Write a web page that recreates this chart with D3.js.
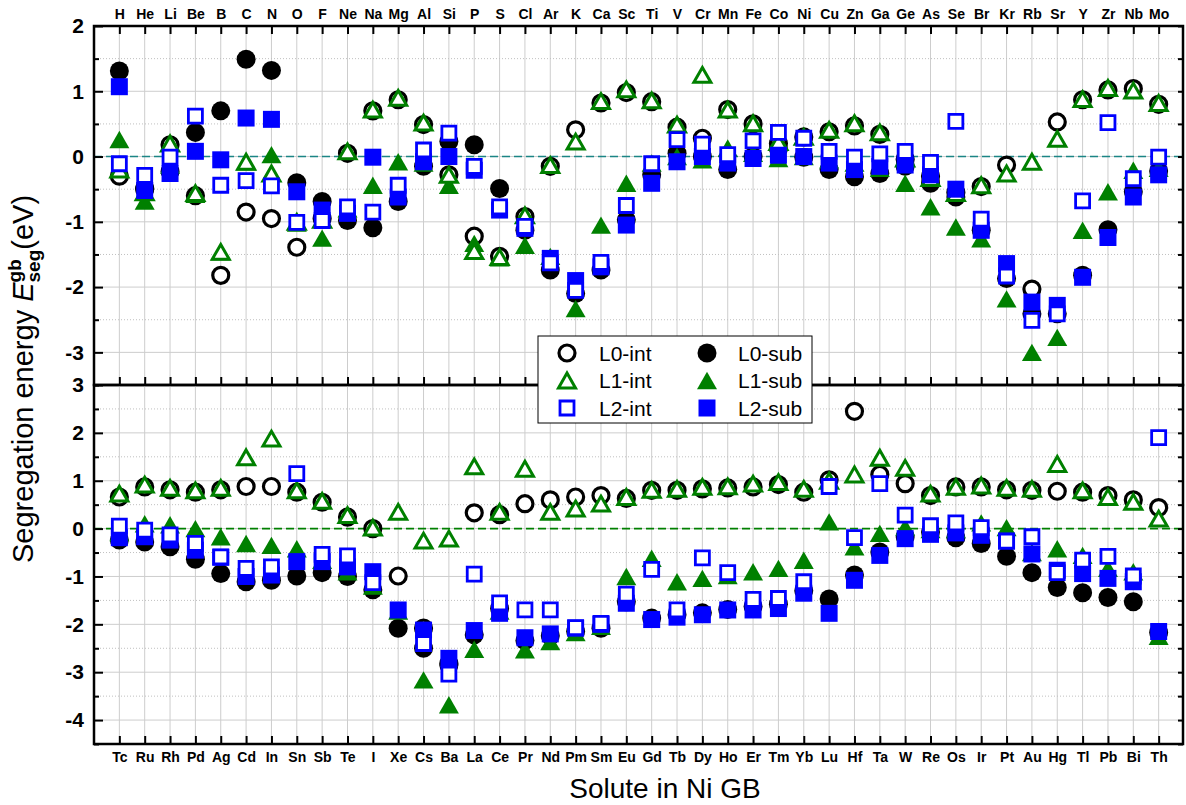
<!DOCTYPE html>
<html>
<head>
<meta charset="utf-8">
<script src="https://cdn.jsdelivr.net/npm/d3@7"></script>
<style>
  body { margin: 0; background: #fff; }
  svg { font-family: "Liberation Sans", Arial, sans-serif; }
</style>
</head>
<body>
<div id="chart"></div>
<script>
// solutes, read left to right
const topElems = ["H","He","Li","Be","B","C","N","O","F","Ne","Na","Mg","Al","Si","P","S","Cl","Ar","K","Ca","Sc","Ti","V","Cr","Mn","Fe","Co","Ni","Cu","Zn","Ga","Ge","As","Se","Br","Kr","Rb","Sr","Y","Zr","Nb","Mo"];
const botElems = ["Tc","Ru","Rh","Pd","Ag","Cd","In","Sn","Sb","Te","I","Xe","Cs","Ba","La","Ce","Pr","Nd","Pm","Sm","Eu","Gd","Tb","Dy","Ho","Er","Tm","Yb","Lu","Hf","Ta","W","Re","Os","Ir","Pt","Au","Hg","Tl","Pb","Bi","Th"];

// top panel values (eV)
const topL0int = [-0.3,-0.5,0.18,-0.6,-1.82,-0.85,-0.95,-1.39,-0.95,0.05,0.7,0.87,0.49,-0.28,-1.22,-1.53,-0.92,-0.15,0.41,0.82,0.98,0.84,0.45,0.28,0.72,0.5,0.2,0.3,0.38,0.47,0.34,-0.04,-0.3,-0.55,-0.46,-0.13,-2.03,0.53,0.87,1.02,1.04,0.8];
const topL0sub = [1.31,-0.48,-0.23,0.37,0.7,1.49,1.32,-0.4,-0.69,-0.98,-1.09,-0.69,-0.15,0.23,0.18,-0.49,-1.13,-1.74,-2.1,-1.74,-0.97,-0.28,0.05,0.0,-0.2,0.0,0.12,-0.01,-0.2,-0.31,-0.26,-0.15,-0.41,-0.62,-1.13,-1.87,-2.41,-2.41,-1.82,-1.12,-0.54,-0.22];
const topL1int = [-0.2,-0.55,0.2,-0.56,-1.46,-0.08,-0.26,-1.0,-0.97,0.08,0.72,0.9,0.52,-0.28,-1.45,-1.54,-0.9,-0.13,0.23,0.85,1.03,0.86,0.49,1.25,0.72,0.51,0.22,0.3,0.41,0.51,0.37,-0.03,-0.33,-0.56,-0.44,-0.26,-0.08,0.27,0.88,1.05,1.01,0.82];
const topL1sub = [0.26,-0.68,-0.13,-0.58,-1.46,-0.08,0.03,-1.02,-1.25,-0.8,-0.44,-0.08,-0.1,-0.44,-1.33,-1.55,-1.36,-1.53,-2.33,-1.05,-0.41,-0.1,0.0,-0.05,0.13,0.05,-0.03,0.0,-0.05,-0.1,-0.18,-0.41,-0.77,-1.08,-1.26,-2.18,-3.0,-2.77,-1.13,-0.54,-0.21,-0.18];
const topL2int = [-0.11,-0.29,-0.01,0.62,-0.44,-0.37,-0.45,-1.01,-0.98,-0.77,-0.85,-0.44,0.1,0.36,-0.15,-0.77,-1.07,-1.63,-2.05,-1.62,-0.75,-0.11,0.26,0.19,0.03,0.24,0.37,0.28,0.08,-0.01,0.04,0.08,-0.09,0.54,-0.96,-1.83,-2.51,-2.41,-0.68,0.52,-0.34,-0.01];
const topL2sub = [1.07,-0.52,-0.26,0.08,-0.05,0.59,0.57,-0.54,-0.82,-0.87,-0.01,-0.62,-0.08,0.0,-0.21,-0.82,-1.1,-1.56,-1.9,-1.69,-1.05,-0.41,-0.08,0.0,-0.1,-0.03,0.02,0.0,-0.1,-0.2,-0.15,-0.13,-0.28,-0.5,-1.13,-1.64,-2.23,-2.28,-1.85,-1.24,-0.62,-0.28];

// bottom panel values (eV)
const botL0int = [0.66,0.87,0.81,0.76,0.81,0.88,0.88,0.76,0.55,0.24,0.0,-0.99,-2.08,-2.82,0.33,0.29,0.52,0.6,0.66,0.69,0.63,0.8,0.8,0.83,0.85,0.87,0.92,0.76,1.02,2.45,1.13,0.94,0.69,0.87,0.87,0.81,0.8,0.78,0.76,0.69,0.6,0.44];
const botL0sub = [-0.24,-0.28,-0.38,-0.64,-0.94,-1.11,-1.08,-0.99,-0.92,-1.0,-1.28,-2.08,-2.5,-2.85,-2.22,-1.67,-2.34,-2.24,-2.15,-2.08,-1.53,-1.87,-1.8,-1.76,-1.69,-1.63,-1.58,-1.3,-1.47,-0.97,-0.49,-0.17,-0.07,-0.19,-0.31,-0.58,-0.92,-1.23,-1.34,-1.44,-1.53,-2.17];
const botL1int = [0.73,0.92,0.85,0.8,0.85,1.49,1.88,0.8,0.58,0.28,0.02,0.35,-0.25,-0.21,1.3,0.35,1.25,0.35,0.42,0.52,0.66,0.81,0.83,0.87,0.88,0.94,0.97,0.83,1.0,1.13,1.48,1.27,0.73,0.87,0.9,0.85,0.83,1.35,0.8,0.66,0.56,0.21];
const botL1sub = [-0.08,0.1,0.08,0.0,-0.17,-0.31,-0.35,-0.42,-0.66,-0.9,-1.2,-1.72,-3.16,-3.68,-2.52,-1.72,-2.53,-2.36,-2.17,-2.04,-1.0,-0.62,-1.11,-1.04,-0.98,-0.9,-0.83,-0.66,0.14,-0.38,-0.1,0.03,-0.02,-0.02,0.12,0.02,-0.5,-0.42,-0.56,-0.83,-0.9,-2.25];
const botL2int = [0.05,-0.03,-0.13,-0.31,-0.59,-0.83,-0.8,1.15,-0.54,-0.57,-1.13,null,-2.4,-3.04,-0.95,-1.55,-1.7,-1.7,-2.07,-1.98,-1.37,-0.85,-1.7,-0.61,-0.92,-1.48,-1.46,-1.11,0.88,-0.19,0.94,0.28,0.06,0.12,0.02,-0.26,-0.17,-0.92,-0.66,-0.58,-0.99,1.9];
const botL2sub = [-0.19,-0.17,-0.24,-0.45,-0.6,-1.0,-0.97,-0.69,-0.69,-0.8,-0.9,-1.7,-2.12,-2.71,-2.13,-1.77,-2.28,-2.2,-2.08,-2.0,-1.56,-1.9,-1.85,-1.8,-1.7,-1.7,-1.67,-1.35,-1.77,-1.08,-0.56,-0.21,-0.12,-0.09,-0.14,-0.26,-0.53,-0.87,-0.94,-1.04,-1.11,-2.15];

const topTicks = [-3, -2, -1, 0, 1, 2];
const botTicks = [-4, -3, -2, -1, 0, 1, 2, 3];

const w = 1186, h = 805;
const left = 94, right = 1183;
const black = "#000000", green = "#008000", blue = "#0000ff";

// triangle centred on its box, not its centroid
const triangle = {
  draw(ctx, size) {
    const s = Math.sqrt(size), t = s * 0.87;
    ctx.moveTo(0, -t / 2);
    ctx.lineTo(s / 2, t / 2);
    ctx.lineTo(-s / 2, t / 2);
    ctx.closePath();
  }
};

const styles = {
  "L0-int": { color: black, type: d3.symbolCircle, size: Math.PI * 8 * 8, open: true, sw: 3.2 },
  "L0-sub": { color: black, type: d3.symbolCircle, size: Math.PI * 9.5 * 9.5, open: false },
  "L1-int": { color: green, type: triangle, size: 17 * 17, open: true, sw: 3 },
  "L1-sub": { color: green, type: triangle, size: 20 * 20, open: false },
  "L2-int": { color: blue, type: d3.symbolSquare, size: 14 * 14, open: true, sw: 2.8 },
  "L2-sub": { color: blue, type: d3.symbolSquare, size: 17 * 17, open: false }
};
// drawing order as in the figure
const drawOrder = ["L0-int", "L0-sub", "L1-sub", "L1-int", "L2-sub", "L2-int"];

const panels = [
  { elems: topElems, y0: 26, y1: 385, domain: [-3.5, 2], ticks: topTicks, zero: "#1b8585", labelsOnTop: true,
    data: { "L0-int": topL0int, "L0-sub": topL0sub, "L1-int": topL1int, "L1-sub": topL1sub, "L2-int": topL2int, "L2-sub": topL2sub } },
  { elems: botElems, y0: 385, y1: 744, domain: [-4.5, 3], ticks: botTicks, zero: green, labelsOnTop: false,
    data: { "L0-int": botL0int, "L0-sub": botL0sub, "L1-int": botL1int, "L1-sub": botL1sub, "L2-int": botL2int, "L2-sub": botL2sub } }
];

const svg = d3.select("#chart").append("svg")
  .attr("width", w).attr("height", h)
  .style("background-color", "#fff");

function marker(sel, name) {
  const st = styles[name];
  sel.attr("d", d3.symbol().type(st.type).size(st.size)())
     .attr("fill", st.open ? "#fff" : st.color)
     .attr("stroke", st.open ? st.color : "none")
     .attr("stroke-width", st.open ? st.sw : 0);
}

panels.forEach((p) => {
  const x = d3.scalePoint().domain(p.elems).range([left, right + 1]).padding(1);
  const y = d3.scaleLinear().domain(p.domain).range([p.y1, p.y0]);
  const halves = d3.range(p.domain[0], p.domain[1] + 0.01, 0.5).filter((v) => !Number.isInteger(v));
  const g = svg.append("g");

  // grid
  g.selectAll(".vgrid").data(p.elems).enter().append("line")
    .attr("x1", (d) => x(d)).attr("x2", (d) => x(d))
    .attr("y1", p.y0).attr("y2", p.y1)
    .attr("stroke", "#cdcdcd").attr("stroke-width", 1);
  g.selectAll(".hgrid").data(p.ticks).enter().append("line")
    .attr("x1", left).attr("x2", right)
    .attr("y1", (d) => y(d)).attr("y2", (d) => y(d))
    .attr("stroke", "#cdcdcd").attr("stroke-width", 1);
  g.selectAll(".mgrid").data(halves).enter().append("line")
    .attr("x1", left).attr("x2", right)
    .attr("y1", (d) => y(d)).attr("y2", (d) => y(d))
    .attr("stroke", "#c0c0c0").attr("stroke-width", 1)
    .attr("stroke-dasharray", "1,2");

  // zero line
  g.append("line")
    .attr("x1", left).attr("x2", right)
    .attr("y1", y(0)).attr("y2", y(0))
    .attr("stroke", p.zero).attr("stroke-width", 1.6)
    .attr("stroke-dasharray", "8,4");

  // points
  drawOrder.forEach((name) => {
    const vals = p.data[name];
    g.append("g").selectAll("path")
      .data(vals.map((v, i) => ({ el: p.elems[i], v })).filter((d) => d.v !== null))
      .enter().append("path")
      .attr("transform", (d) => `translate(${x(d.el)},${y(d.v)})`)
      .call(marker, name);
  });

  // axes
  const noDomain = (a) => a.select(".domain").remove();
  const yAx = g.append("g").attr("transform", `translate(${left},0)`)
    .call(d3.axisLeft(y).tickValues(p.ticks).tickSizeInner(-9).tickSizeOuter(0).tickPadding(10).tickFormat((d) => String(d)))
    .call(noDomain);
  yAx.selectAll("text").attr("font-size", 21).attr("font-weight", "bold")
     .attr("font-family", "Liberation Sans, Arial, sans-serif").attr("fill", "#000");
  g.append("g").attr("transform", `translate(${left},0)`)
    .call(d3.axisLeft(y).tickValues(halves).tickSize(-5).tickFormat(""))
    .call(noDomain);
  g.append("g").attr("transform", `translate(${right},0)`)
    .call(d3.axisRight(y).tickValues(p.ticks.concat(halves)).tickSize(-5).tickFormat(""))
    .call(noDomain);

  let xAx;
  if (p.labelsOnTop) {
    xAx = g.append("g").attr("transform", `translate(0,${p.y0})`)
      .call(d3.axisTop(x).tickSizeInner(-8).tickSizeOuter(0).tickPadding(7))
      .call(noDomain);
    g.append("g").attr("transform", `translate(0,${p.y1})`)
      .call(d3.axisBottom(x).tickSize(-8).tickFormat(""))
      .call(noDomain);
  } else {
    xAx = g.append("g").attr("transform", `translate(0,${p.y1})`)
      .call(d3.axisBottom(x).tickSizeInner(-8).tickSizeOuter(0).tickPadding(8))
      .call(noDomain);
  }
  xAx.selectAll("text").attr("font-size", 14).attr("font-weight", "bold")
     .attr("font-family", "Liberation Sans, Arial, sans-serif").attr("fill", "#000");
  g.selectAll(".tick line").attr("stroke", "#000").attr("stroke-width", 2);

  // frame
  g.append("rect")
    .attr("x", left).attr("y", p.y0)
    .attr("width", right - left).attr("height", p.y1 - p.y0)
    .attr("fill", "none").attr("stroke", "#000").attr("stroke-width", 2.5);
});

// y title
const yTitle = svg.append("text")
  .attr("transform", "translate(33,563) rotate(-90)")
  .attr("font-size", 29).attr("fill", "#000");
yTitle.append("tspan").text("Segregation energy ");
yTitle.append("tspan").attr("font-style", "italic").text("E");
const sup = yTitle.append("tspan").attr("font-size", 19).attr("font-weight", "bold").attr("dy", -12).text("gb");
const supLen = sup.node().getComputedTextLength();
yTitle.append("tspan").attr("font-size", 19).attr("font-weight", "bold").attr("dx", -supLen).attr("dy", 19).text("seg");
yTitle.append("tspan").attr("dy", -7).text("(eV)");

// x title
svg.append("text")
  .attr("x", 665).attr("y", 798)
  .attr("text-anchor", "middle")
  .attr("font-size", 28).attr("fill", "#000")
  .text("Solute in Ni GB");

// legend
const legRows = [["L0-int", "L0-sub"], ["L1-int", "L1-sub"], ["L2-int", "L2-sub"]];
const leg = svg.append("g").attr("transform", "translate(538,336)");
leg.append("rect").attr("width", 274).attr("height", 87)
  .attr("fill", "#fff").attr("stroke", "#000").attr("stroke-width", 1);
legRows.forEach((row, r) => {
  row.forEach((name, c) => {
    const cy = 17 + r * 27.5;
    leg.append("path").attr("transform", `translate(${29 + c * 140},${cy})`).call(marker, name);
    leg.append("text").attr("x", 61 + c * 139).attr("y", cy + 7.5)
      .attr("font-size", 21).attr("fill", "#000").text(name);
  });
});
</script>
</body>
</html>
